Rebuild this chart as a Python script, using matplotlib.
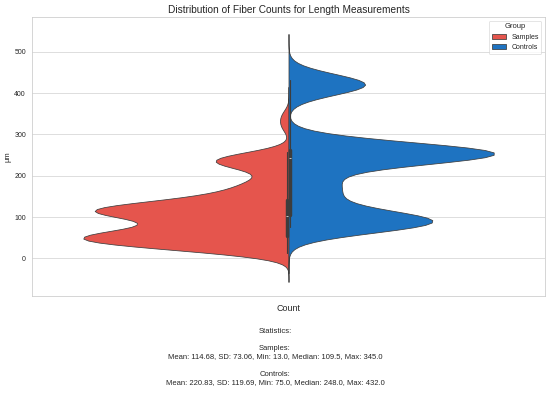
import matplotlib
matplotlib.use("Agg")
import matplotlib.pyplot as plt
import seaborn as sns
import pandas as pd

groups = ["Samples", "Controls"]
samples_um = [13, 13, 14, 17, 20, 22, 24, 26, 27, 29, 30, 32, 33, 34, 35, 36, 37, 38, 39, 40,
              41, 42, 43, 44, 45, 46, 47, 48,
              48, 49, 50, 51, 52, 53, 54, 55, 56, 57, 58, 59, 60, 61, 62, 63, 64, 66, 67, 69,
              70, 72, 74, 76, 79, 82, 87, 95,
              71, 80, 85, 88, 91, 93, 95, 97, 98, 100, 101, 103, 104, 105, 106, 107, 108, 110,
              111, 112, 113, 114, 115, 116, 117, 118, 118, 119, 120,
              119, 120, 121, 122, 124, 125, 126, 128, 129, 130, 132, 134, 135, 137, 138, 140,
              141, 144, 146, 148, 151, 153, 157, 161, 168, 179,
              165, 172, 179, 186, 192, 198,
              215, 217, 223, 225, 229, 231, 233, 235, 237, 239, 241, 243, 247, 249, 255, 257,
              320, 345]
controls_um = [75, 77, 79, 81, 83, 85, 87, 89, 91, 94, 97, 101, 107, 116,
               140, 152, 164, 176, 188, 200,
               232, 238, 241, 244, 246, 247, 249, 250, 252, 253, 255, 256, 258, 259, 261,
               263, 264, 267, 270, 276,
               414, 417, 419, 421, 421, 424, 432]
colors = ["#E5554D", "#1E73C1"]
stats_lines = [
    "Statistics:",
    "",
    "Samples:",
    "Mean: 114.68, SD: 73.06, Min: 13.0, Median: 109.5, Max: 345.0",
    "",
    "Controls:",
    "Mean: 220.83, SD: 119.69, Min: 75.0, Median: 248.0, Max: 432.0",
]

df = pd.DataFrame({
    "µm": samples_um + controls_um,
    "Group": [groups[0]] * len(samples_um) + [groups[1]] * len(controls_um),
})

sns.set_theme(style="whitegrid")
plt.rcParams["font.family"] = ["Liberation Sans", "DejaVu Sans"]

W, H = 550, 393
dpi = W / 12
fig = plt.figure(figsize=(12, H / dpi), dpi=dpi)
ax = fig.add_axes([32 / W, 1 - 296 / H, (545 - 32) / W, (296 - 17) / H])

sns.violinplot(data=df, y="µm", hue="Group", split=True, palette=dict(zip(groups, colors)),
               inner="box", bw_method=0.223, cut=4.5, density_norm="width",
               saturation=1, linewidth=1.2, linecolor="#3d3d3d", ax=ax)

ax.set_xlim(-0.5, 0.5)
ax.set_ylim(-91, 584)

ax.set_title("Distribution of Fiber Counts for Length Measurements", fontsize=16, pad=6)
ax.set_xlabel("Count", fontsize=14, labelpad=13)
ax.set_ylabel("µm", fontsize=12)
ax.set_xticks([])
ax.tick_params(axis="y", labelsize=11)
sns.move_legend(ax, "upper right", title="Group")

fig.text(0.5, 1 - 328 / H, "\n".join(stats_lines), ha="center", va="top", fontsize=12,
         linespacing=1.3)

fig.savefig("out.png", dpi=dpi)
